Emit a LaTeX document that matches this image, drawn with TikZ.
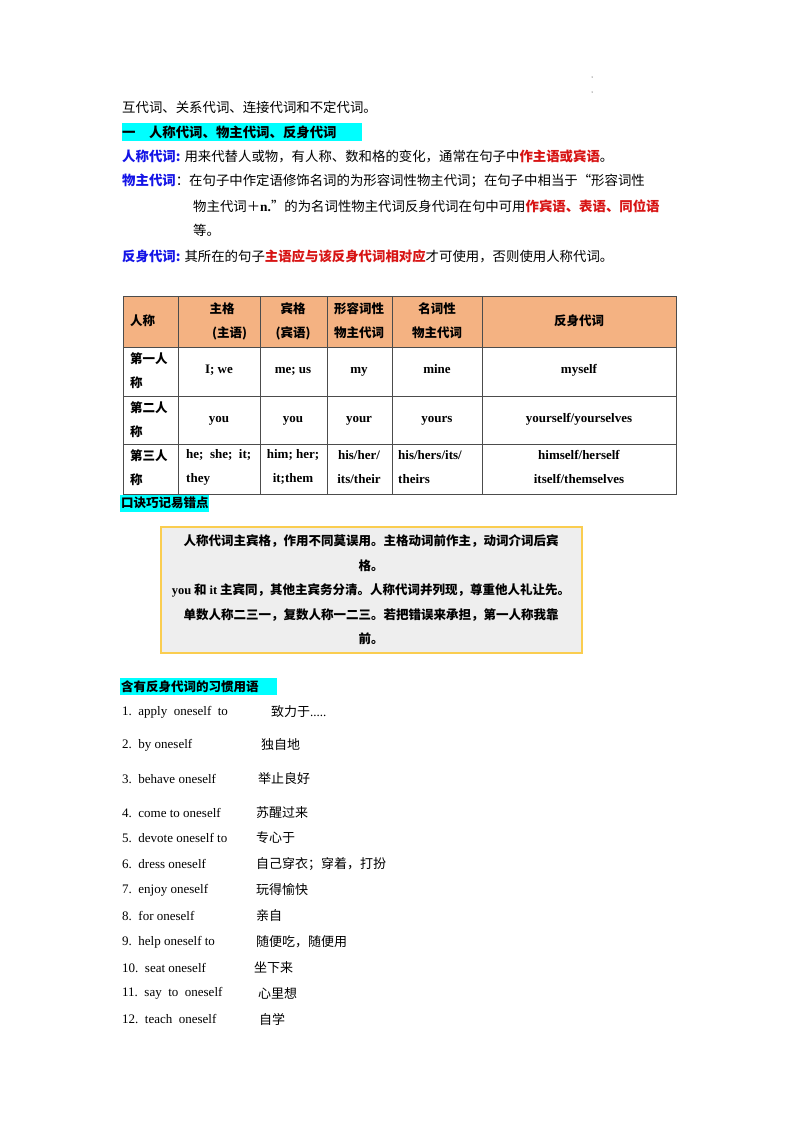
\documentclass[tikz,border=0pt]{standalone}
\usepackage{fontspec}
\setmainfont{Liberation Serif}
\newfontfamily\cjk{Noto Sans CJK SC}
\definecolor{hl}{RGB}{0,255,255}
\definecolor{kw}{RGB}{20,20,230}
\definecolor{rd}{RGB}{215,20,20}
\definecolor{hd}{RGB}{244,178,130}
\definecolor{gold}{RGB}{250,205,80}
\definecolor{gbox}{RGB}{238,238,238}
\begin{document}
\begin{tikzpicture}[x=1pt,y=-1pt,
  txt/.style={anchor=west,inner sep=0pt,font=\fontsize{13.4}{15}\selectfont\cjk},
  cell/.style={inner sep=0pt,font=\fontsize{12.5}{24}\selectfont\bfseries\cjk,align=center},
  latin/.style={inner sep=0pt,font=\fontsize{13}{24}\selectfont\bfseries,align=center},
  item/.style={anchor=west,inner sep=0pt,font=\fontsize{13}{15}\selectfont}]
\useasboundingbox (0,0) rectangle (800,1132);
\node[txt] (t0) at (122,107) {互代词、关系代词、连接代词和不定代词。};
\fill[hl] (122,123) rectangle (362,141);
\node[txt,font=\fontsize{13.4}{15}\selectfont\bfseries\cjk] (t1) at (122,132) {一\quad 人称代词、物主代词、反身代词};
\node[txt] (t2) at (122,156) {\textcolor{kw}{\bfseries 人称代词:} 用来代替人或物，有人称、数和格的变化，通常在句子中\textcolor{rd}{\bfseries 作主语或宾语}。};
\node[txt] (t3) at (122,181) {\textcolor{kw}{\bfseries 物主代词}：在句子中作定语修饰名词的为形容词性物主代词；在句子中相当于“形容词性};
\node[txt] (t4) at (193,206) {物主代词＋{\rmfamily\bfseries n.}”的为名词性物主代词反身代词在句中可用\textcolor{rd}{\bfseries 作宾语、表语、同位语}};
\node[txt] (t5) at (193,230) {等。};
\node[txt] (t6) at (122,256) {\textcolor{kw}{\bfseries 反身代词:} 其所在的句子\textcolor{rd}{\bfseries 主语应与该反身代词相对应}才可使用，否则使用人称代词。};
% table
\fill[hd] (123,296) rectangle (676,347);
\draw[line width=0.8pt,gray!60!black] (123,296) rectangle (676,494);
\foreach \y in {347,396,444} \draw[gray!60!black] (123,\y) -- (676,\y);
\foreach \x in {178,260,327,392,482} \draw[gray!60!black] (\x,296) -- (\x,494);
\node[cell,anchor=west] (h1) at (130,321) {人称};
\node[cell] (h2) at (222,321) {主格\\\hspace*{1.2em}(主语)};
\node[cell] (h3) at (293,321) {宾格\\(宾语)};
\node[cell] (h4) at (359,321) {形容词性\\物主代词};
\node[cell] (h5) at (437,321) {名词性\\物主代词};
\node[cell] (h6) at (579,321) {反身代词};
\node[cell,anchor=west,align=left] (r1) at (130,371) {第一人\\称};
\node[cell,anchor=west,align=left] (r2) at (130,420) {第二人\\称};
\node[cell,anchor=west,align=left] (r3) at (130,468) {第三人\\称};
\node[latin,anchor=base] at (219,373) {I; we};
\node[latin,anchor=base] at (293,373) {me; us};
\node[latin,anchor=base] at (359,373) {my};
\node[latin,anchor=base] at (437,373) {mine};
\node[latin,anchor=base] at (579,373) {myself};
\node[latin,anchor=base] at (219,422) {you};
\node[latin,anchor=base] at (293,422) {you};
\node[latin,anchor=base] at (359,422) {your};
\node[latin,anchor=base] at (437,422) {yours};
\node[latin,anchor=base] at (579,422) {yourself/yourselves};
\node[latin,anchor=west,align=left] at (186,467) {he;\ \ she;\ \ it;\\they};
\node[latin] at (293,467) {him; her;\\it;them};
\node[latin] at (359,467) {his/her/\\its/their};
\node[latin,anchor=west,align=left] at (398,467) {his/hers/its/\\theirs};
\node[latin] at (579,467) {himself/herself\\itself/themselves};
% mnemonic
\fill[hl] (120,495) rectangle (209,512);
\node[txt,font=\fontsize{12.5}{14}\selectfont\bfseries\cjk] (m0) at (121,503) {口诀巧记易错点};
\draw[gold,line width=2.2pt,fill=gbox] (161,527) rectangle (582,653);
\node[cell,font=\fontsize{12.5}{24.5}\selectfont\bfseries\cjk] (m1) at (371,590) {人称代词主宾格，作用不同莫误用。主格动词前作主，动词介词后宾\\格。\\{\rmfamily you} 和 {\rmfamily it} 主宾同，其他主宾务分清。人称代词并列现，尊重他人礼让先。\\单数人称二三一，复数人称一二三。若把错误来承担，第一人称我靠\\前。};
\fill[hl] (120,678) rectangle (277,695);
\node[txt,font=\fontsize{12.5}{14}\selectfont\bfseries\cjk] (s0) at (121,687) {含有反身代词的习惯用语};
\foreach \y/\e/\c/\cx in {712/{1.\ \ apply\ \ oneself\ \ to}/致力于{\rmfamily .....}/271,
  745/{2.\ \ by oneself}/独自地/261,
  779/{3.\ \ behave oneself}/举止良好/258,
  813/{4.\ \ come to oneself}/苏醒过来/256,
  838/{5.\ \ devote oneself to}/专心于/256,
  864/{6.\ \ dress oneself}/自己穿衣；穿着，打扮/256,
  890/{7.\ \ enjoy oneself}/玩得愉快/256,
  916/{8.\ \ for oneself}/亲自/256,
  942/{9.\ \ help oneself to}/随便吃，随便用/256,
  968/{10.\ \ seat oneself}/坐下来/254,
  993/{11.\ \ say\ \ to\ \ oneself}/心里想/258,
  1019/{12.\ \ teach\ \ oneself}/自学/259}{
  \node[item] at (122,\y) {\e};
  \node[item,font=\fontsize{13}{15}\selectfont\cjk] at (\cx,\y) {\c};
}
\fill (592,77) circle (0.5);
\fill (592,92) circle (0.5);
\end{tikzpicture}
\end{document}
